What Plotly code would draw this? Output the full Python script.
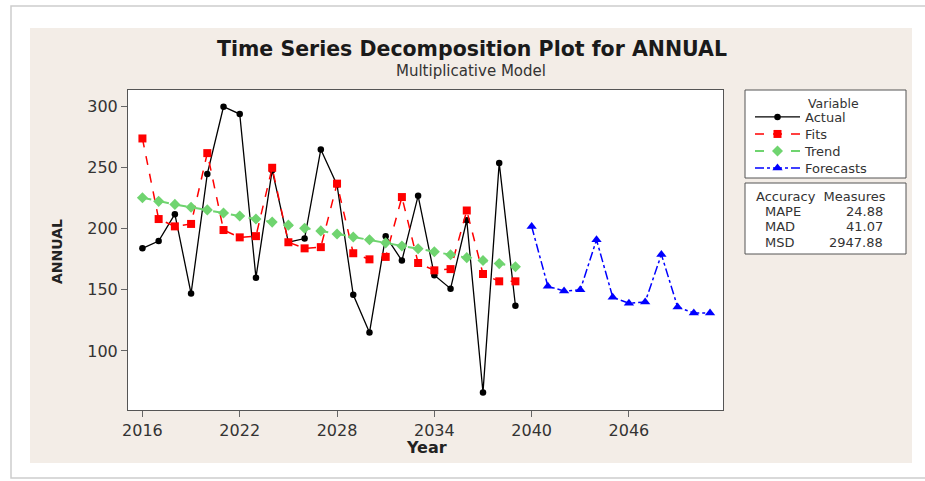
import plotly.graph_objects as go

# ---- data -------------------------------------------------------------
years_actual = list(range(2016, 2040))
actual = [184, 190, 212, 147, 245, 300, 294, 160, 248, 189, 192, 265,
          236, 146, 115, 194, 174, 227, 162, 151, 207, 66, 254, 137]
fits = [274, 208, 202, 204, 262, 199, 193, 194, 250, 189, 184, 185,
        237, 180, 175, 177, 226, 172, 166, 167, 215, 163, 157, 157]
trend = [225.5, 222.5, 220, 217.7, 215.5, 213, 210.5, 208, 205.5, 203,
         200.5, 198.3, 195.8, 193.3, 191, 188.5, 186, 183.7, 181.2, 178.8,
         176.4, 174, 171.5, 169]
years_forecast = list(range(2040, 2052))
forecasts = [202, 153, 149, 150, 191, 144, 139, 140, 179, 136, 131, 131]

x_ticks = [2016, 2022, 2028, 2034, 2040, 2046]
y_ticks = [100, 150, 200, 250, 300]

accuracy_labels = ["MAPE", "MAD", "MSD"]
accuracy_values = ["24.88", "41.07", "2947.88"]

# ---- page geometry (pixels) -------------------------------------------
W, H = 925, 481
PL, PR, PT, PB = 128, 723, 90, 410


def px(x):
    return (x - PL) / (PR - PL)


def py(y):
    return (PB - y) / (PB - PT)


FONT = "DejaVu Sans"
TXT = "#333333"

fig = go.Figure()
fig.add_trace(go.Scatter(
    x=years_actual, y=actual, name="Actual", mode="lines+markers", legend="legend",
    line=dict(color="#000000", width=1.3),
    marker=dict(symbol="circle", size=6.5, color="#000000")))
fig.add_trace(go.Scatter(
    x=years_actual, y=fits, name="Fits", mode="lines+markers", legend="legend2",
    line=dict(color="#ff0000", width=1.5, dash="dash"),
    marker=dict(symbol="square", size=8, color="#ff0000")))
fig.add_trace(go.Scatter(
    x=years_actual, y=trend, name="Trend", mode="lines+markers", legend="legend3",
    line=dict(color="#6fd46f", width=2, dash="dash"),
    marker=dict(symbol="diamond", size=8.5, color="#6fd46f")))
fig.add_trace(go.Scatter(
    x=years_forecast, y=forecasts, name="Forecasts", mode="lines+markers", legend="legend4",
    line=dict(color="#0000ff", width=1.5, dash="dashdot"),
    marker=dict(symbol="triangle-up", size=9, color="#0000ff")))

shapes = [
    # outer frame
    dict(type="rect", xref="paper", yref="paper",
         x0=px(11), x1=px(940), y0=py(478), y1=py(6),
         line=dict(color="#cdcdcd", width=1.5), fillcolor="#ffffff", layer="below"),
    # beige panel
    dict(type="rect", xref="paper", yref="paper",
         x0=px(30), x1=px(912), y0=py(463), y1=py(28),
         line=dict(width=0), fillcolor="#f3ede7", layer="below"),
    # plotting region
    dict(type="rect", xref="paper", yref="paper",
         x0=0, x1=1, y0=0, y1=1,
         line=dict(width=0), fillcolor="#ffffff", layer="below"),
    # legend box
    dict(type="rect", xref="paper", yref="paper",
         x0=px(745), x1=px(906), y0=py(178), y1=py(90),
         line=dict(color="#555555", width=1), fillcolor="#ffffff", layer="below"),
    # accuracy box
    dict(type="rect", xref="paper", yref="paper",
         x0=px(745), x1=px(906), y0=py(254), y1=py(183),
         line=dict(color="#555555", width=1), fillcolor="#ffffff", layer="below"),
]

annotations = [
    dict(text="<b>Time Series Decomposition Plot for ANNUAL</b>",
         x=px(472), y=py(49), xref="paper", yref="paper",
         xanchor="center", yanchor="middle", showarrow=False,
         font=dict(family=FONT, size=20.5, color="#1a1a1a")),
    dict(text="Multiplicative Model",
         x=px(471), y=py(71), xref="paper", yref="paper",
         xanchor="center", yanchor="middle", showarrow=False,
         font=dict(family=FONT, size=15, color=TXT)),
    dict(text="<b>Year</b>",
         x=px(426), y=py(447), xref="paper", yref="paper",
         xanchor="center", yanchor="middle", showarrow=False,
         font=dict(family=FONT, size=16, color="#222222")),
    dict(text="<b>ANNUAL</b>", textangle=-90,
         x=px(57), y=py(252), xref="paper", yref="paper",
         xanchor="center", yanchor="middle", showarrow=False,
         font=dict(family=FONT, size=14, color="#222222")),
    dict(text="Variable",
         x=px(833), y=py(103), xref="paper", yref="paper",
         xanchor="center", yanchor="middle", showarrow=False,
         font=dict(family=FONT, size=12.5, color=TXT)),
    dict(text="Accuracy  Measures",
         x=px(754), y=py(196), xref="paper", yref="paper",
         xanchor="left", yanchor="middle", showarrow=False,
         font=dict(family=FONT, size=13, color=TXT)),
]
for i, (lab, val) in enumerate(zip(accuracy_labels, accuracy_values)):
    yy = 211 + i * 15.5
    annotations.append(dict(text=lab, x=px(763), y=py(yy), xref="paper", yref="paper",
                            xanchor="left", yanchor="middle", showarrow=False,
                            font=dict(family=FONT, size=13, color=TXT)))
    annotations.append(dict(text=val, x=px(885), y=py(yy), xref="paper", yref="paper",
                            xanchor="right", yanchor="middle", showarrow=False,
                            font=dict(family=FONT, size=13, color=TXT)))


def legend_at(y_px):
    return dict(x=px(750), y=py(y_px), xanchor="left", yanchor="middle",
                bgcolor="rgba(0,0,0,0)", borderwidth=0, itemwidth=45,
                font=dict(family=FONT, size=13, color=TXT))


fig.update_layout(
    width=W, height=H,
    margin=dict(l=PL, r=W - PR, t=PT, b=H - PB, pad=0),
    paper_bgcolor="#ffffff", plot_bgcolor="#ffffff",
    shapes=shapes, annotations=annotations,
    showlegend=True,
    legend=legend_at(117), legend2=legend_at(134),
    legend3=legend_at(151), legend4=legend_at(168),
    xaxis=dict(range=[2015.11, 2051.8], tickmode="array", tickvals=x_ticks,
               ticktext=[str(v) for v in x_ticks],
               ticks="outside", ticklen=6, tickcolor="#666666",
               showline=True, mirror=True, linecolor="#555555", linewidth=1,
               showgrid=False, zeroline=False,
               tickfont=dict(family=FONT, size=16, color=TXT)),
    yaxis=dict(range=[51.6, 313.7], tickmode="array", tickvals=y_ticks,
               ticks="outside", ticklen=6, tickcolor="#666666",
               showline=True, mirror=True, linecolor="#555555", linewidth=1,
               showgrid=False, zeroline=False,
               tickfont=dict(family=FONT, size=16, color=TXT)),
)

fig.write_html("out.html")
